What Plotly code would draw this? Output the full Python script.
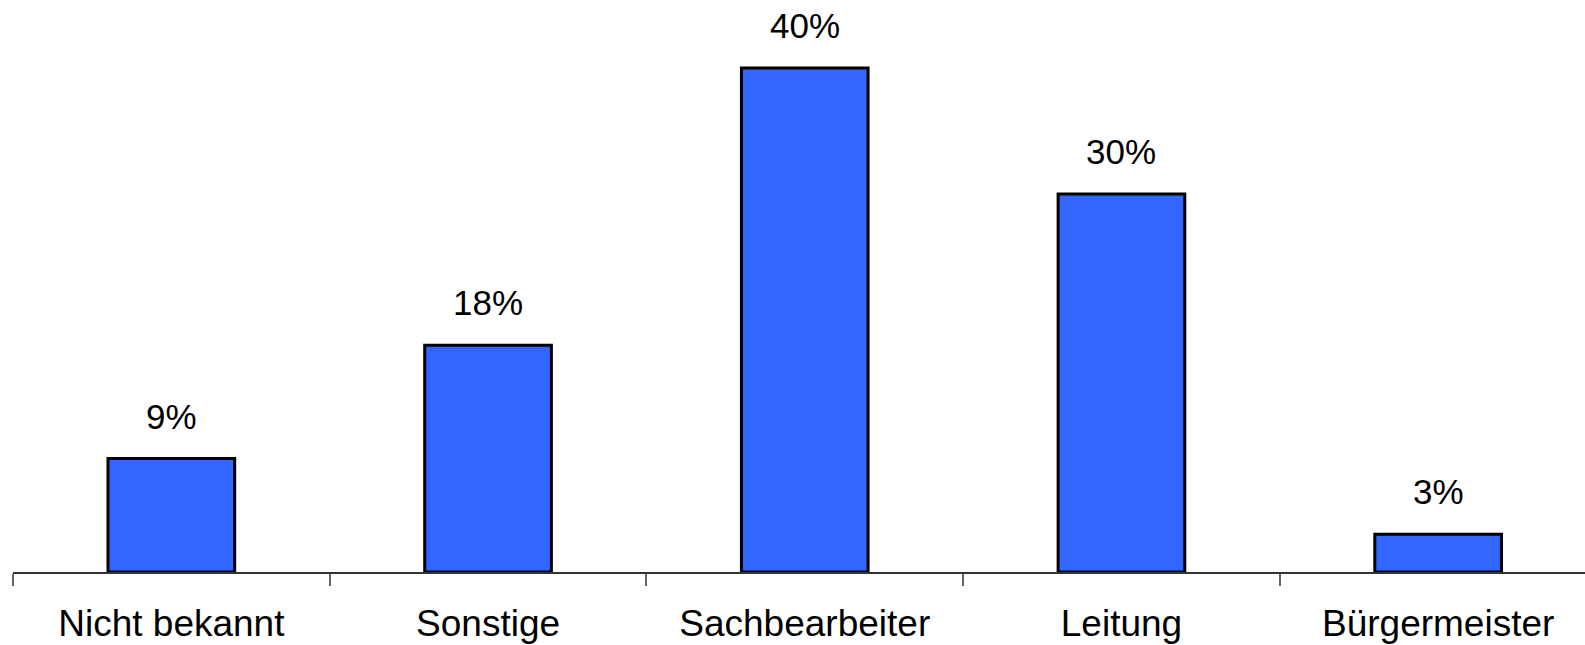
import plotly.graph_objects as go

categories = ["Nicht bekannt", "Sonstige", "Sachbearbeiter", "Leitung", "Bürgermeister"]
values = [9, 18, 40, 30, 3]
labels = ["9%", "18%", "40%", "30%", "3%"]

fig = go.Figure()
fig.add_trace(go.Bar(
    x=categories, y=values, width=0.4,
    marker=dict(color="#3366FF", line=dict(color="black", width=3)),
    hoverinfo="skip",
))
for c, v, t in zip(categories, values, labels):
    fig.add_annotation(x=c, y=v, text=t, showarrow=False, yanchor="bottom",
                       yshift=21, font=dict(family="Liberation Sans, Arial", size=35, color="black"))

fig.update_layout(
    width=1585, height=645,
    margin=dict(l=13, r=0, t=0, b=73, autoexpand=False),
    paper_bgcolor="white", plot_bgcolor="white",
    showlegend=False,
    font=dict(family="Liberation Sans, Arial", size=37, color="black"),
    xaxis=dict(range=[-0.5, 4.4637], showline=True, linecolor="#333333", linewidth=1.5,
               ticks="outside", tickson="boundaries", ticklen=12, tickcolor="#666666",
               tickwidth=1.5, showgrid=False, ticklabelstandoff=18, automargin=False,
               tickfont=dict(size=37)),
    yaxis=dict(range=[0, 45.4], visible=False, showgrid=False, zeroline=False, automargin=False),
)
fig.write_html("out.html", config=dict(displayModeBar=False),
               post_script="document.body.style.margin='0';document.body.style.overflow='hidden';")
